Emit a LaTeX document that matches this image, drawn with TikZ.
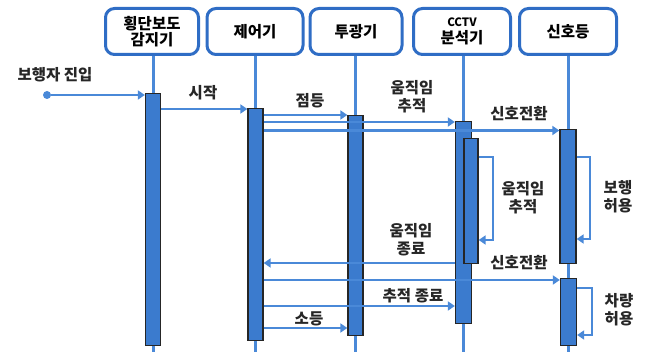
\documentclass[tikz,border=0pt]{standalone}
\usepackage{fontspec}
\newfontfamily\kr{Noto Sans CJK KR}
\usetikzlibrary{arrows.meta}
\definecolor{lineblue}{HTML}{4A89D8}
\definecolor{barblue}{HTML}{3B7BCE}
\definecolor{hdrblue}{HTML}{2F6DC5}
\tikzset{
  hdr/.style={draw=hdrblue, line width=3pt, rounded corners=9pt, fill=white,
    minimum height=46pt, inner sep=1pt, align=center,
    font=\kr\bfseries\fontsize{15.5}{16.5}\selectfont},
  life/.style={draw=lineblue, line width=3pt},
  bar/.style={draw=black!85, line width=1.3pt, fill=barblue, inner sep=0pt,
    minimum width=15pt, anchor=north},
  msg/.style={draw=lineblue, line width=2.6pt, -{Triangle[length=7pt,width=9pt]}},
  lbl/.style={font=\kr\bfseries\fontsize{15.5}{18}\selectfont, align=center, inner sep=0pt, text=black!85},
  dotn/.style={circle, fill=lineblue, inner sep=0pt, minimum size=8pt}
}
\begin{document}
\begin{tikzpicture}[x=1pt,y=-1pt]
\useasboundingbox (0,0) rectangle (646,352);
% headers
\node[hdr, minimum width=93pt] (h1) at (152,31.5) {횡단보도\\감지기};
\node[hdr, minimum width=96pt] (h2) at (255,31.5) {제어기};
\node[hdr, minimum width=92pt] (h3) at (356,31.5) {투광기};
\node[hdr, minimum width=97pt] (h4) at (462,31.5) {{\fontsize{11.5}{12.5}\selectfont CCTV}\\분석기};
\node[hdr, minimum width=97pt] (h5) at (568,31.5) {신호등};
% lifeline ends
\coordinate (e1) at (153,352);
\coordinate (e2) at (255.5,352);
\coordinate (e3) at (355.5,352);
\coordinate (e4) at (463.5,352);
\coordinate (e5) at (568,352);
\draw[life] (h1.south -| e1) -- (e1);
\draw[life] (h2.south -| e2) -- (e2);
\draw[life] (h3.south -| e3) -- (e3);
\draw[life] (h4.south -| e4) -- (e4);
\draw[life] (h5.south -| e5) -- (e5);
% activation bars
\node[bar, minimum height=252pt] (b1) at (153,93) {};
\node[bar, minimum height=232pt] (b2) at (255.5,108) {};
\node[bar, minimum height=220pt] (b3) at (355.5,115) {};
\node[bar, minimum height=202pt, minimum width=16pt] (b4) at (463.5,121) {};
\node[bar, minimum height=125pt, minimum width=14pt] (b4n) at (471,138) {};
\node[bar, minimum height=134pt, minimum width=16pt] (b5a) at (568,129) {};
\node[bar, minimum height=67pt, minimum width=16pt] (b5b) at (568.5,278) {};
% messages
\node[dotn] (s) at (47,95) {};
\draw[msg] (s) -- (b1.west |- s);
\draw[msg] (b1.east |- 0,109) -- (b2.west |- 0,109);
\draw[msg] (b2.east |- 0,115) -- (b3.west |- 0,115);
\draw[msg] (b2.east |- 0,122) -- (b4.west |- 0,122);
\draw[msg] (b2.east |- 0,130.5) -- (b5a.west |- 0,130.5);
\draw[msg] (b4n.east |- 0,157) -| (493,240) -- (b4n.east |- 0,240);
\draw[msg] (b5a.east |- 0,157) -| (590,239) -- (b5a.east |- 0,239);
\draw[msg] (b4.west |- 0,263) -- (b2.east |- 0,263);
\draw[msg] (b2.east |- 0,280) -- (b5b.west |- 0,280);
\draw[msg] (b2.east |- 0,306) -- (b4.west |- 0,306);
\draw[msg] (b2.east |- 0,328) -- (b3.west |- 0,328);
\draw[msg] (b5b.east |- 0,288) -| (592,335) -- (b5b.east |- 0,335);
% labels
\node[lbl] (l1) at (55,75) {보행자 진입};
\node[lbl] (l2) at (203,93) {시작};
\node[lbl] (l3) at (310,101) {점등};
\node[lbl] (l4) at (412,97) {움직임\\추적};
\node[lbl] (l5) at (519,114) {신호전환};
\node[lbl] (l6) at (523,198) {움직임\\추적};
\node[lbl] (l7) at (618,197) {보행\\허용};
\node[lbl] (l8) at (411,240) {움직임\\종료};
\node[lbl] (l9) at (519,263) {신호전환};
\node[lbl] (l10) at (413,296) {추적 종료};
\node[lbl] (l11) at (619,310) {차량\\허용};
\node[lbl] (l12) at (309,319) {소등};
\end{tikzpicture}
\end{document}
